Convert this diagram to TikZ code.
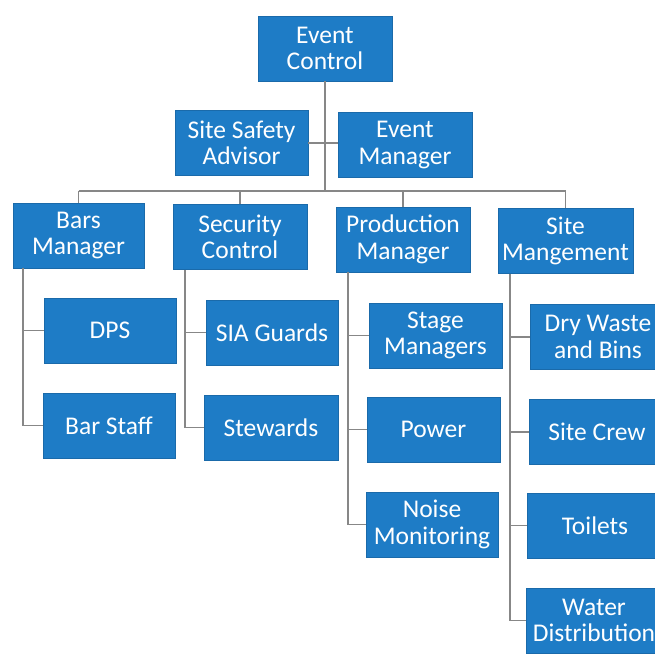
\documentclass[tikz,border=0pt]{standalone}
\usepackage{fontspec}
\setmainfont{Carlito}
\definecolor{boxblue}{RGB}{30,124,198}
\definecolor{boxedge}{RGB}{26,106,170}
\definecolor{linegray}{RGB}{135,135,135}
\begin{document}
\begin{tikzpicture}[x=1pt,y=-1pt,
  orgbox/.style={rectangle, fill=boxblue, draw=boxedge, line width=0.6pt, text=white,
    minimum width=133pt, minimum height=65pt, inner sep=1pt, align=center,
    font=\fontsize{25.5}{26.5}\selectfont},
  conn/.style={draw=linegray, line width=1.2pt}]
\useasboundingbox (0,0) rectangle (655,656);
\clip (0,0) rectangle (655,656);
% top
\node[orgbox, minimum width=134pt] (ec) at (325,48.5) {Event\\Control};
\node[orgbox] (ssa) at (241.5,143) {Site Safety\\Advisor};
\node[orgbox, minimum width=134pt] (em) at (405,145) {Event\\Manager};
% managers
\node[orgbox, minimum width=131pt] (bm) at (78.5,235.5) {Bars\\Manager};
\node[orgbox, minimum width=134pt] (sc) at (240,237) {Security\\Control};
\node[orgbox, minimum width=134pt] (pm) at (403,239.5) {Production\\Manager};
\node[orgbox, minimum width=135pt] (sm) at (565.5,241) {Site\\Mangement};
% bars children
\node[orgbox, minimum width=132pt] (dps) at (110,330.5) {DPS};
\node[orgbox, minimum width=132pt] (bs) at (109,425.5) {Bar Staff};
% security children
\node[orgbox, minimum width=132pt] (sia) at (272,332.5) {SIA Guards};
\node[orgbox, minimum width=134pt] (stw) at (271,427.5) {Stewards};
% production children
\node[orgbox] (stm) at (435.5,335.5) {Stage\\Managers};
\node[orgbox] (pw) at (433.5,429.5) {Power};
\node[orgbox, minimum width=132pt] (nm) at (432,524.5) {Noise\\Monitoring};
% site children
\node[orgbox, minimum width=136pt] (dw) at (598,337) {Dry Waste\\and Bins};
\node[orgbox, minimum width=136pt] (scw) at (597,432) {Site Crew};
\node[orgbox, minimum width=136pt] (toi) at (595,525.5) {Toilets};
\node[orgbox, minimum width=136pt] (wd) at (594,620.5) {Water\\Distribution};
% coordinates
\coordinate (bus) at (0,191);
\coordinate (bmx) at (23,0);
\coordinate (scx) at (185,0);
\coordinate (pmx) at (348,0);
\coordinate (smx) at (510,0);
% connectors
\draw[conn] (ec.south) -- (ec.south |- bus);
\draw[conn] (ssa.east) -- (ssa.east -| em.west);
\draw[conn] (bm.north |- bus) -- (sm.north |- bus);
\draw[conn] (bm.north |- bus) -- (bm.north);
\draw[conn] (sc.north |- bus) -- (sc.north);
\draw[conn] (pm.north |- bus) -- (pm.north);
\draw[conn] (sm.north |- bus) -- (sm.north);
% bars
\draw[conn] (bmx |- bm.south) |- (bs.west);
\draw[conn] (bmx |- dps.west) -- (dps.west);
% security
\draw[conn] (scx |- sc.south) |- (stw.west);
\draw[conn] (scx |- sia.west) -- (sia.west);
% production
\draw[conn] (pmx |- pm.south) |- (nm.west);
\draw[conn] (pmx |- stm.west) -- (stm.west);
\draw[conn] (pmx |- pw.west) -- (pw.west);
% site
\draw[conn] (smx |- sm.south) |- (wd.west);
\draw[conn] (smx |- dw.west) -- (dw.west);
\draw[conn] (smx |- scw.west) -- (scw.west);
\draw[conn] (smx |- toi.west) -- (toi.west);
\end{tikzpicture}
\end{document}
